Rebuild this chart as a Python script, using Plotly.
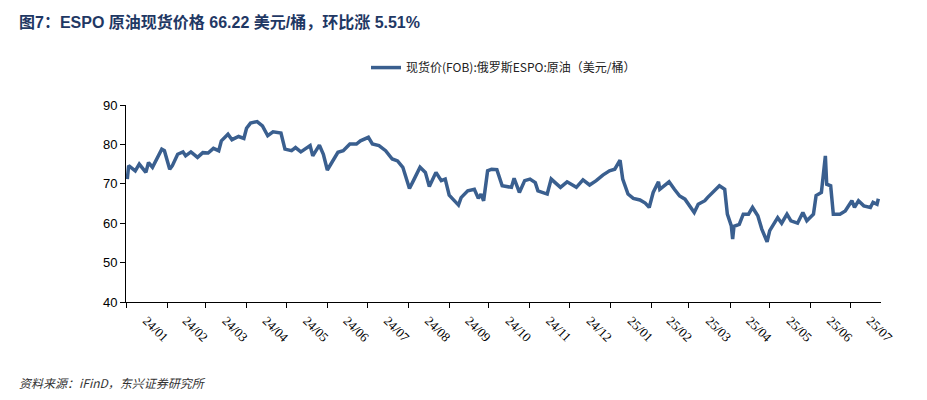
import plotly.graph_objects as go

dates = ["2024-01-02","2024-01-03","2024-01-08","2024-01-11","2024-01-16","2024-01-18","2024-01-21","2024-01-28","2024-01-30",
"2024-02-03","2024-02-05","2024-02-09","2024-02-13","2024-02-15","2024-02-19","2024-02-24","2024-02-28",
"2024-03-03","2024-03-07","2024-03-11","2024-03-13","2024-03-18","2024-03-21","2024-03-26","2024-03-30",
"2024-04-01","2024-04-04","2024-04-09","2024-04-13","2024-04-17","2024-04-21","2024-04-27","2024-04-30",
"2024-05-05","2024-05-08","2024-05-12","2024-05-19","2024-05-21","2024-05-26","2024-05-29",
"2024-06-01","2024-06-05","2024-06-09","2024-06-13","2024-06-18","2024-06-23","2024-06-26",
"2024-07-02","2024-07-05","2024-07-10","2024-07-15","2024-07-20","2024-07-24","2024-07-28",
"2024-08-02","2024-08-05","2024-08-10","2024-08-14","2024-08-17","2024-08-22","2024-08-26","2024-08-29",
"2024-09-01","2024-09-08","2024-09-10","2024-09-15","2024-09-20","2024-09-23","2024-09-25","2024-09-27","2024-09-29","2024-09-30",
"2024-10-03","2024-10-07","2024-10-11","2024-10-18","2024-10-20","2024-10-24","2024-10-28",
"2024-11-01","2024-11-05","2024-11-07","2024-11-14","2024-11-17","2024-11-24","2024-11-29",
"2024-12-06","2024-12-11","2024-12-16","2024-12-21","2024-12-26","2024-12-31",
"2025-01-04","2025-01-08","2025-01-10","2025-01-14","2025-01-18","2025-01-23","2025-01-27","2025-01-30",
"2025-02-02","2025-02-06","2025-02-07","2025-02-14","2025-02-18","2025-02-22","2025-02-26",
"2025-03-02","2025-03-05","2025-03-08","2025-03-13","2025-03-15","2025-03-19","2025-03-24","2025-03-28","2025-03-30",
"2025-04-02","2025-04-03","2025-04-04","2025-04-08","2025-04-11","2025-04-15","2025-04-18","2025-04-22","2025-04-25","2025-04-29",
"2025-05-01","2025-05-05","2025-05-07","2025-05-10","2025-05-14","2025-05-17","2025-05-22","2025-05-26","2025-05-29",
"2025-06-03","2025-06-05","2025-06-09","2025-06-12","2025-06-13","2025-06-16","2025-06-18","2025-06-23","2025-06-27",
"2025-07-02","2025-07-04","2025-07-07","2025-07-11","2025-07-16","2025-07-18","2025-07-21","2025-07-22"]
prices = [71.2,74.6,73.3,75.0,72.9,75.4,74.2,78.8,78.4,
73.7,74.6,77.5,78.1,77.1,78.1,76.7,77.9,
77.8,79.0,78.4,80.9,82.6,81.2,82.0,81.5,
84.1,85.4,85.8,84.7,82.2,83.2,82.9,78.8,
78.4,79.2,78.1,79.7,77.1,79.8,77.5,
73.5,75.6,78.0,78.4,80.1,80.1,80.9,
81.8,80.1,79.7,78.4,76.3,75.8,74.2,
68.8,70.8,74.2,72.9,69.3,72.9,70.8,71.2,
67.1,64.6,66.5,68.2,68.6,66.3,67.4,65.7,70.3,73.3,
73.7,73.6,69.5,69.1,71.4,67.8,70.8,
71.2,70.3,68.2,67.4,71.2,69.1,70.5,
69.1,71.0,69.7,70.8,72.2,73.3,
73.7,76.0,71.2,67.4,66.3,65.9,65.1,64.0,
67.8,70.5,68.6,70.5,68.6,66.9,66.1,
64.0,62.7,64.8,65.7,66.5,67.8,69.5,68.6,62.3,
59.3,56.0,59.2,59.7,62.3,62.3,64.0,61.9,58.5,55.3,
58.1,60.2,61.4,60.0,62.3,60.6,60.0,62.7,60.6,
62.3,67.0,67.8,77.1,69.9,69.5,62.3,62.3,63.1,
65.7,64.0,65.7,64.4,64.0,65.3,64.8,66.2]

fig = go.Figure(go.Scatter(x=dates, y=prices, mode="lines",
    line=dict(color="#3a5f8f", width=3.5),
    name="现货价(FOB):俄罗斯ESPO:原油（美元/桶）"))

fig.update_layout(
    width=927, height=400, paper_bgcolor="white", plot_bgcolor="white",
    margin=dict(l=118, r=54, t=97, b=106, autoexpand=False),
    font=dict(family="Noto Sans CJK SC, Liberation Sans, sans-serif", color="#222", size=12),
    showlegend=True,
    legend=dict(orientation="h", x=0.5, xanchor="center", y=1.19, yanchor="middle",
                font=dict(size=12), bgcolor="rgba(0,0,0,0)"),
    xaxis=dict(type="date", range=["2024-01-01", "2025-07-24"], dtick="M1",
               tickformat="%y/%m", ticklabelmode="period", tickangle=45,
               ticks="outside", ticklen=5, tickcolor="#000", showgrid=False,
               showline=True, linecolor="#000", linewidth=1,
               tickfont=dict(family="Liberation Serif, serif", size=13, color="#000")),
    yaxis=dict(range=[40, 90], dtick=10, ticks="outside", ticklen=5, tickcolor="#000",
               showgrid=False, showline=True, linecolor="#000", linewidth=1, zeroline=False,
               tickfont=dict(family="Liberation Sans, sans-serif", size=13, color="#000")),
)
fig.add_annotation(text="<b>图7：ESPO 原油现货价格 66.22 美元/桶，环比涨 5.51%</b>",
                   xref="paper", yref="paper", x=-0.145, xanchor="left", y=1.42, yanchor="middle",
                   showarrow=False,
                   font=dict(family="Liberation Sans, Noto Sans CJK SC, sans-serif", size=16, color="#1f3864"))
fig.add_annotation(text="<i>资料来源：iFinD，东兴证券研究所</i>", xref="paper", yref="paper",
                   x=-0.145, xanchor="left", y=-0.41, yanchor="middle", showarrow=False,
                   font=dict(size=12, color="#333"))
fig.write_html("out.html")
